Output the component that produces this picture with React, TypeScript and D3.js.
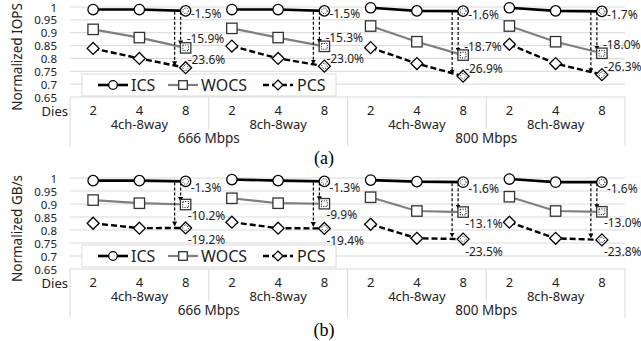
import React from 'react';
import * as d3 from 'd3';

// categories
const dies = ['2', '4', '8'];
const configs = ['4ch-8way', '8ch-8way'];
const speeds = ['666 Mbps', '800 Mbps'];
const seriesNames = ['ICS', 'WOCS', 'PCS'];
const yTicks = [0.65, 0.7, 0.75, 0.8, 0.85, 0.9, 0.95, 1];

// (a) normalized IOPS
const iopsICS = [0.99, 0.99, 0.985, 0.99, 0.99, 0.985, 0.997, 0.985, 0.984, 0.997, 0.985, 0.983];
const iopsWOCS = [0.913, 0.881, 0.841, 0.917, 0.881, 0.847, 0.926, 0.865, 0.813, 0.926, 0.865, 0.82];
const iopsPCS = [0.839, 0.8, 0.764, 0.848, 0.8, 0.77, 0.842, 0.78, 0.731, 0.855, 0.78, 0.737];
const iopsPctICS = ['-1.5%', '-1.5%', '-1.6%', '-1.7%'];
const iopsPctWOCS = ['-15.9%', '-15.3%', '-18.7%', '-18.0%'];
const iopsPctPCS = ['-23.6%', '-23.0%', '-26.9%', '-26.3%'];

// (b) normalized GB/s
const gbICS = [0.99, 0.99, 0.987, 0.994, 0.99, 0.987, 0.992, 0.986, 0.984, 0.996, 0.984, 0.984];
const gbWOCS = [0.915, 0.903, 0.898, 0.922, 0.903, 0.901, 0.926, 0.873, 0.869, 0.928, 0.873, 0.87];
const gbPCS = [0.826, 0.807, 0.808, 0.83, 0.807, 0.806, 0.822, 0.768, 0.765, 0.83, 0.768, 0.762];
const gbPctICS = ['-1.3%', '-1.3%', '-1.6%', '-1.6%'];
const gbPctWOCS = ['-10.2%', '-9.9%', '-13.1%', '-13.0%'];
const gbPctPCS = ['-19.2%', '-19.4%', '-23.5%', '-23.8%'];

const FONT = "'Noto Sans', 'DejaVu Sans', sans-serif";
const GRID = '#d9d9d9';

const cats = speeds.flatMap(s => configs.flatMap(c => dies.map(d => ({ s, c, d }))));
const x = d3.scaleBand<number>().domain(d3.range(cats.length)).range([70, 625]);
const cx = (i: number) => (x(i) || 0) + x.bandwidth() / 2;

const styles: Record<string, { stroke: string; width: number; dash?: string; shape: string }> = {
  ICS: { stroke: '#000', width: 2.6, shape: 'circle' },
  WOCS: { stroke: '#7f7f7f', width: 2.2, shape: 'square' },
  PCS: { stroke: '#000', width: 2.4, dash: '6,3', shape: 'diamond' },
};

const Marker = ({ shape, x0, y0, s, dotted }: { shape: string; x0: number; y0: number; s: number; dotted?: boolean }) => {
  const draw = (r: number, props: any) => {
    if (shape === 'circle') return <circle cx={x0} cy={y0} r={r} {...props} />;
    if (shape === 'square') return <rect x={x0 - r} y={y0 - r} width={r * 2} height={r * 2} {...props} />;
    return <path d={`M${x0},${y0 - r * 1.15}L${x0 + r * 1.15},${y0}L${x0},${y0 + r * 1.15}L${x0 - r * 1.15},${y0}Z`} {...props} />;
  };
  return (
    <g>
      {draw(s, { fill: '#fff', stroke: shape === 'square' ? '#333' : '#000', strokeWidth: 1.3 })}
      {dotted && draw(s * 0.55, { fill: 'none', stroke: '#000', strokeWidth: 1, strokeDasharray: '1,1.4' })}
    </g>
  );
};

type ChartProps = {
  top: number;
  bottom: number;
  title: string;
  letter: string;
  values: number[][];
  pcts: string[][];
  labelDx: number[];
  labelDy: number[];
};

const Chart = ({ top, bottom, title, letter, values, pcts, labelDx, labelDy }: ChartProps) => {
  const y = d3.scaleLinear().domain([0.65, 1]).range([bottom, top]);
  const groups = d3.range(4);
  const legendY = top + 78;
  const legendItems = [
    { name: seriesNames[0], l0: 98, l1: 128, tx: 131 },
    { name: seriesNames[1], l0: 168, l1: 198, tx: 201 },
    { name: seriesNames[2], l0: 263, l1: 293, tx: 297 },
  ];
  return (
    <g>
      {/* gridlines */}
      {yTicks.map(t => (
        <line key={t} x1={70} x2={625} y1={y(t)} y2={y(t)} stroke={GRID} strokeWidth={1} />
      ))}
      {/* y tick labels */}
      {yTicks.map(t => (
        <text key={'t' + t} x={57} y={y(t)} textAnchor="end" dominantBaseline="central" fontSize={11.5} fontFamily={FONT} fill="#222">
          {String(t)}
        </text>
      ))}
      <text
        transform={`translate(17,${(top + bottom) / 2 + 5}) rotate(-90)`}
        textAnchor="middle"
        dominantBaseline="central"
        fontSize={13.5}
        fontFamily={FONT}
        fill="#222"
      >
        {title}
      </text>
      {/* category axis */}
      {[0, 6, 12].map(i => (
        <line key={'s' + i} x1={i === 12 ? 625 : x(i)} x2={i === 12 ? 625 : x(i)} y1={bottom} y2={bottom + 49} stroke={GRID} />
      ))}
      {[3, 9].map(i => (
        <line key={'c' + i} x1={x(i)} x2={x(i)} y1={bottom} y2={bottom + 32} stroke={GRID} />
      ))}
      <text x={68} y={bottom + 14} textAnchor="end" dominantBaseline="central" fontSize={13} fontFamily={FONT} fill="#222">
        Dies
      </text>
      {cats.map((c, i) => (
        <text key={'d' + i} x={cx(i)} y={bottom + 13} textAnchor="middle" dominantBaseline="central" fontSize={13} fontFamily={FONT} fill="#222">
          {c.d}
        </text>
      ))}
      {groups.map(g => (
        <text key={'cf' + g} x={cx(g * 3 + 1)} y={bottom + 27} textAnchor="middle" dominantBaseline="central" fontSize={13} fontFamily={FONT} fill="#222">
          {cats[g * 3].c}
        </text>
      ))}
      {d3.range(2).map(g => (
        <text key={'sp' + g} x={((x(g * 6) || 0) + (g === 1 ? 625 : x(6) || 0)) / 2} y={bottom + 41} textAnchor="middle" dominantBaseline="central" fontSize={13.5} fontFamily={FONT} fill="#222">
          {cats[g * 6].s}
        </text>
      ))}
      {/* legend */}
      <rect x={82} y={top + 67} width={254} height={22} fill="#fff" stroke={GRID} />
      {legendItems.map(it => {
        const st = styles[it.name];
        return (
          <g key={it.name}>
            <line x1={it.l0} x2={it.l1} y1={legendY} y2={legendY} stroke={st.stroke} strokeWidth={st.width} strokeDasharray={st.dash} />
            <Marker shape={st.shape} x0={(it.l0 + it.l1) / 2} y0={legendY} s={4.3} />
            <text x={it.tx} y={legendY} dominantBaseline="central" fontSize={16} fontFamily={FONT} fill="#222">
              {it.name}
            </text>
          </g>
        );
      })}
      {/* series */}
      {seriesNames.map((name, k) => {
        const st = styles[name];
        const vals = values[k];
        const ln = d3.line<number>().x(i => cx(i)).y(i => y(vals[i]));
        return (
          <g key={name}>
            {groups.map(g => (
              <path key={g} d={ln([g * 3, g * 3 + 1, g * 3 + 2]) || ''} fill="none" stroke={st.stroke} strokeWidth={st.width} strokeDasharray={st.dash} />
            ))}
          </g>
        );
      })}
      {/* arrows */}
      {groups.map(g => {
        const i = g * 3 + 2;
        const y0 = y(values[0][i]) + 1;
        return (
          <g key={'a' + g}>
            <line x1={cx(i) - 5} x2={cx(i) - 5} y1={y0} y2={y(values[1][i]) - 3} stroke="#000" strokeWidth={1.2} strokeDasharray="3,2" markerEnd="url(#arr)" />
            <line x1={cx(i) - 11} x2={cx(i) - 11} y1={y0} y2={y(values[2][i]) - 2} stroke="#000" strokeWidth={1.2} strokeDasharray="3,2" markerEnd="url(#arr)" />
          </g>
        );
      })}
      {seriesNames.map((name, k) => (
        <g key={'m' + name}>
          {values[k].map((v, i) => (
            <Marker key={i} shape={styles[name].shape} x0={cx(i)} y0={y(v)} s={5.2} dotted={i % 3 === 2} />
          ))}
        </g>
      ))}
      {/* percentage labels */}
      {seriesNames.map((name, k) => (
        <g key={'p' + name}>
          {groups.map(g => {
            const i = g * 3 + 2;
            return (
              <text key={g} x={cx(i) + labelDx[k]} y={y(values[k][i]) + labelDy[k]} dominantBaseline="central" fontSize={12} fontFamily={FONT} fill="#222">
                {pcts[k][g]}
              </text>
            );
          })}
        </g>
      ))}
      <text x={324} y={bottom + 61} textAnchor="middle" dominantBaseline="central" fontSize={18} fontFamily="'Liberation Serif', 'Times New Roman', serif" fill="#000">
        {letter}
      </text>
    </g>
  );
};

export default function App() {
  return (
    <svg width={641} height={341} style={{ position: 'absolute', left: 0, top: 0, background: '#fff' }}>
      <defs>
        <marker id="arr" viewBox="0 0 10 10" refX="9" refY="5" markerWidth="5" markerHeight="5" orient="auto" markerUnits="userSpaceOnUse">
          <path d="M0,0L10,5L0,10Z" fill="#000" />
        </marker>
      </defs>
      <Chart
        top={7}
        bottom={97}
        title="Normalized IOPS"
        letter="(a)"
        values={[iopsICS, iopsWOCS, iopsPCS]}
        pcts={[iopsPctICS, iopsPctWOCS, iopsPctPCS]}
        labelDx={[5, 1, 2]}
        labelDy={[3, -9, -8]}
      />
      <Chart
        top={178}
        bottom={269}
        title="Normalized GB/s"
        letter="(b)"
        values={[gbICS, gbWOCS, gbPCS]}
        pcts={[gbPctICS, gbPctWOCS, gbPctPCS]}
        labelDx={[5, 2, 2]}
        labelDy={[6, 11, 12]}
      />
    </svg>
  );
}
